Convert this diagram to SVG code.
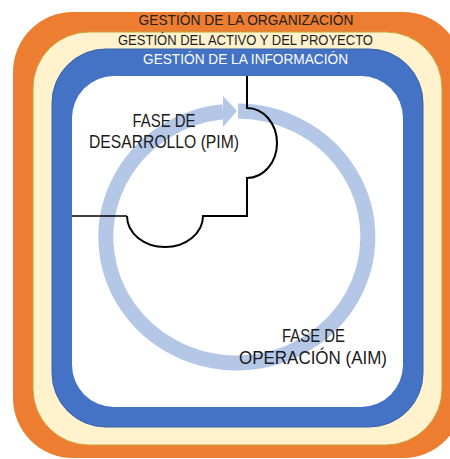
<svg xmlns="http://www.w3.org/2000/svg" width="450" height="459" viewBox="0 0 450 459">
  <style>
    .band-label { font-family: "Liberation Sans", Arial, sans-serif; font-size: 14px; text-anchor: middle; }
    .phase { font-family: "Liberation Sans", Arial, sans-serif; font-size: 17.5px; fill: #1a1a1a; text-anchor: middle; }
    .dark { fill: #1f1f1f; }
    .light { fill: #ffffff; }
    .divider { fill: none; stroke: #000000; stroke-width: 2; stroke-linejoin: miter; }
  </style>
  <rect width="450" height="459" fill="#ffffff"/>

  <!-- nested management layers -->
  <g id="organizacion">
    <rect x="13" y="12" width="450" height="446" rx="60" fill="#ed7d31"/>
    <text class="band-label dark" x="246" y="25" textLength="215" lengthAdjust="spacingAndGlyphs">GESTIÓN DE LA ORGANIZACIÓN</text>
  </g>
  <g id="activo-proyecto">
    <rect x="33" y="32" width="409" height="413" rx="56" fill="#fff2cc" stroke="#c9a43a" stroke-width="1"/>
    <text class="band-label dark" x="245.5" y="45" textLength="255" lengthAdjust="spacingAndGlyphs" style="font-size:14.5px">GESTIÓN DEL ACTIVO Y DEL PROYECTO</text>
  </g>
  <g id="informacion">
    <rect x="52" y="49" width="371" height="378" rx="54" fill="#4472c4" stroke="#3a62a8" stroke-width="1"/>
    <rect x="72" y="76" width="331" height="331" rx="42" fill="#ffffff"/>
    <text class="band-label light" x="245.5" y="64" textLength="205" lengthAdjust="spacingAndGlyphs">GESTIÓN DE LA INFORMACIÓN</text>
  </g>

  <!-- circular lifecycle arrow -->
  <g id="connectors">
    <path d="M 238 111 A 131 126 0 1 1 223 111.7" fill="none" stroke="#b4c7e7" stroke-width="15"/>
    <polygon points="223,96 237,111 223,127" fill="#b4c7e7"/>
  </g>

  <!-- boundary between the two phases -->
  <g id="frontera">
    <path class="divider" d="M 247 76 L 247 108 A 30 35 0 0 1 247 178 L 247 216 L 203 216 A 38 31 0 0 1 127 216"/>
    <path d="M 127 216 L 72 216" fill="none" stroke="#000000" stroke-width="1.5"/>
  </g>

  <g id="fase-desarrollo">
    <text class="phase" x="164" y="127" textLength="63" lengthAdjust="spacingAndGlyphs">FASE DE</text>
    <text class="phase" x="164" y="148" textLength="150" lengthAdjust="spacingAndGlyphs">DESARROLLO (PIM)</text>
  </g>
  <g id="fase-operacion">
    <text class="phase" x="313.5" y="342" textLength="63" lengthAdjust="spacingAndGlyphs">FASE DE</text>
    <text class="phase" x="313" y="364" textLength="148" lengthAdjust="spacingAndGlyphs">OPERACIÓN (AIM)</text>
  </g>
</svg>
